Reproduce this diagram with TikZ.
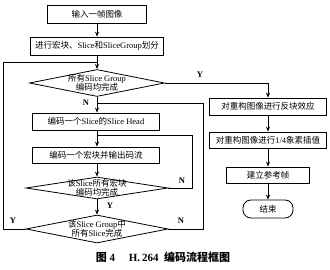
\documentclass[tikz,border=0pt]{standalone}
\usepackage{fontspec}
\setmainfont{Liberation Serif}
\newfontfamily\cjk{Noto Sans CJK SC}
\usetikzlibrary{shapes.geometric,arrows.meta}
\begin{document}
\begin{tikzpicture}[x=1pt,y=-1pt,
  font=\fontsize{8.5}{9.5}\selectfont,
  box/.style={draw, line width=0.8pt, inner sep=0pt, align=center},
  dia/.style={draw, diamond, line width=0.8pt, inner sep=0pt},
  dtext/.style={align=center, inner sep=0pt},
  arr/.style={-{Stealth[length=5pt,width=4pt]}, line width=0.7pt},
  ln/.style={line width=0.7pt},
  lbl/.style={font=\fontsize{8.5}{9.5}\selectfont\bfseries, inner sep=0pt}]
\useasboundingbox (0,0) rectangle (330,270);

% left column
\node[box, minimum width=99pt, minimum height=18pt] (b1) at (97,14) {\cjk 输入一帧图像};
\node[box, minimum width=133pt, minimum height=18pt] (b2) at (97,46) {{\cjk 进行宏块、}Slice{\cjk 和}SliceGroup{\cjk 划分}};
\node[dia, minimum width=135pt, minimum height=27pt] (d1) at (97,83) {};
\node[dtext] (t1) at (d1.center) {{\cjk 所有}Slice Group\\{\cjk 编码均完成}};
\node[box, minimum width=127pt, minimum height=17pt] (b3) at (96,121.5) {{\cjk 编码一个}Slice{\cjk 的}Slice Head};
\node[box, minimum width=127pt, minimum height=16pt] (b4) at (96,155) {\cjk 编码一个宏块并输出码流};
\node[dia, minimum width=142pt, minimum height=22pt] (d3) at (97,188) {};
\node[dtext] (t3) at (d3.center) {{\cjk 该}Slice{\cjk 所有宏块}\\{\cjk 编码均完成}};
\node[dia, minimum width=142pt, minimum height=28pt] (d4) at (97,229) {};
\node[dtext] (t4) at (d4.center) {{\cjk 该}Slice Group{\cjk 中}\\{\cjk 所有}Slice{\cjk 完成}};

% right column
\node[box, minimum width=117pt, minimum height=17pt] (r1) at (268,106.5) {\cjk 对重构图像进行反块效应};
\node[box, minimum width=117pt, minimum height=16pt] (r2) at (268,140) {{\cjk 对重构图像进行}1/4{\cjk 象素插值}};
\node[box, minimum width=83pt, minimum height=16pt] (r3) at (268,175) {\cjk 建立参考帧};
\node[box, rounded corners=8pt, minimum width=50pt, minimum height=18pt] (e) at (268,209) {\cjk 结束};

% junction / corner coordinates
\coordinate (j1) at (97,62);
\coordinate (j2) at (97,103);
\coordinate (j3) at (97,135);
\coordinate (lx) at (3,62);
\coordinate (rx) at (203,103);
\coordinate (mx) at (192,135);

% connectors
\draw[arr] (b1) -- (b2);
\draw[arr] (b2) -- (d1);
\draw[arr] (d1.east) -| (r1.north);
\draw[arr] (d1) -- (b3.north -| d1);
\draw[arr] (b3.south -| d1) -- (b4.north -| d1);
\draw[arr] (b4.south -| d1) -- (d3);
\draw[arr] (d3) -- (d4);
\draw[ln] (d3.east) -| (mx) -- (j3);
\draw[ln] (d4.west) -| (lx) -- (j1);
\draw[ln] (d4.east) -| (rx) -- (j2);
\draw[arr] (r1) -- (r2);
\draw[arr] (r2) -- (r3);
\draw[arr] (r3) -- (e);

% labels
\node[lbl] (ly1) at (200,75) {Y};
\node[lbl] (ln1) at (86,103) {N};
\node[lbl] (ln3) at (182,181) {N};
\node[lbl] (ly3) at (110,206) {Y};
\node[lbl] (ly4) at (13,221) {Y};
\node[lbl] (ln4) at (181,221) {N};

% caption
\node[font=\fontsize{11}{13}\selectfont\bfseries] (cap) at (163,257) {{\cjk 图}\ 4\quad\ H.\,264\ \ {\cjk 编码流程框图}};
\end{tikzpicture}
\end{document}
